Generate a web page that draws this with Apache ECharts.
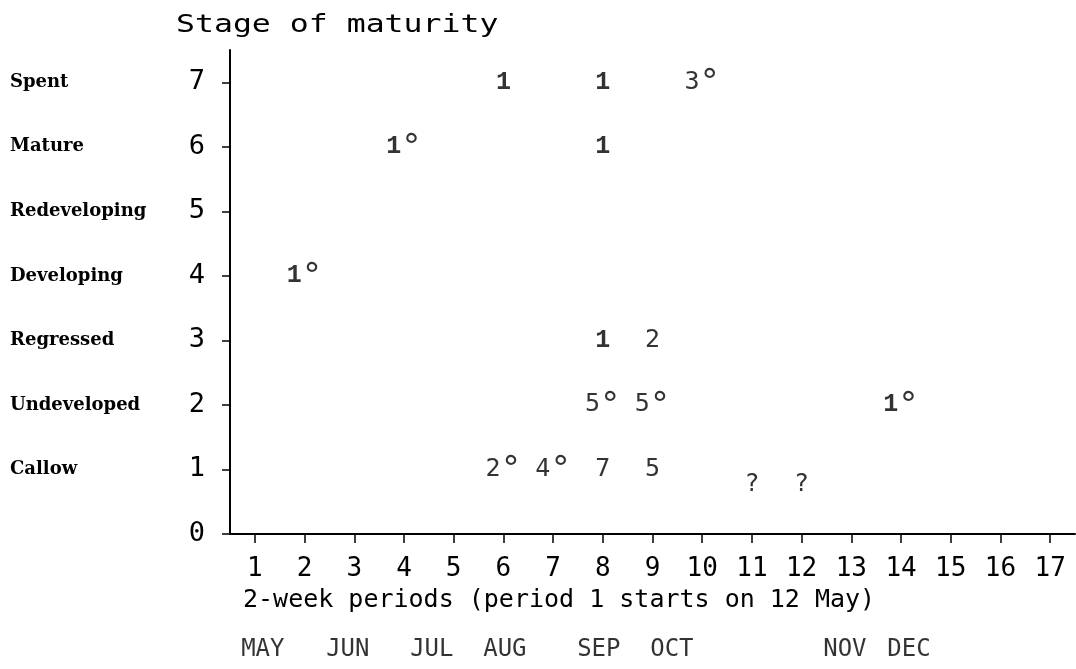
<!DOCTYPE html>
<html>
<head>
<meta charset="utf-8">
<script src="https://cdn.jsdelivr.net/npm/echarts@6/dist/echarts.min.js"></script>
<style>html,body{margin:0;padding:0;background:#fff}#c{width:1076px;height:669px}</style>
</head>
<body>
<div id="c"></div>
<script>
// ---- data ----
const periods = [6, 8, 10, 4, 8, 2, 8, 9, 8, 9, 14, 6, 7, 8, 9, 11, 12];
const stages  = [7, 7, 7, 6, 6, 4, 3, 3, 2, 2, 2, 1, 1, 1, 1, 0.77, 0.77];
const marks   = ['1', '1', '3°', '1°', '1', '1°', '1', '2', '5°', '5°', '1°', '2°', '4°', '7', '5', '?', '?'];
const stageNames = ['', 'Callow', 'Undeveloped', 'Regressed', 'Developing', 'Redeveloping', 'Mature', 'Spent'];
const stageTicks = [0, 1, 2, 3, 4, 5, 6, 7];
const periodTicks = [1, 2, 3, 4, 5, 6, 7, 8, 9, 10, 11, 12, 13, 14, 15, 16, 17];
const months = ['MAY', 'JUN', 'JUL', 'AUG', 'SEP', 'OCT', 'NOV', 'DEC'];
const monthPos = [1.16, 2.87, 4.56, 6.03, 7.92, 9.39, 12.87, 14.16];
const monthRow = -1.8;

const MONO = '"DejaVu Sans Mono", monospace';
const chart = echarts.init(document.getElementById('c'), null, {renderer: 'canvas'});

function richLabel(s) {
  let out = '';
  for (const ch of s) {
    if (ch === '°') out += '{d|°}';
    else if (ch === '1') out += '{s|1}';
    else out += '{p|' + ch + '}';
  }
  return out;
}

chart.setOption({
  animation: false,
  backgroundColor: '#fff',
  grid: {left: 230, right: 1, top: 50, bottom: 135, containLabel: false},
  xAxis: {
    type: 'value', min: 0.5, max: 17.5,
    splitLine: {show: false},
    axisLine: {show: true, onZero: false, lineStyle: {color: '#000', width: 2}},
    axisTick: {show: true, inside: false, customValues: periodTicks, length: 9, lineStyle: {color: '#000', width: 1.5}},
    axisLabel: {show: true, customValues: periodTicks, margin: 22, color: '#000', fontFamily: MONO, fontSize: 26}
  },
  yAxis: [{
    type: 'value', min: 0, max: 7.5,
    splitLine: {show: false},
    axisLine: {show: true, lineStyle: {color: '#000', width: 2}},
    axisTick: {show: true, inside: false, customValues: stageTicks, length: 8, lineStyle: {color: '#000', width: 1.5}},
    axisLabel: {show: true, customValues: stageTicks, margin: 25, color: '#000', fontFamily: MONO, fontSize: 27}
  }, {
    type: 'value', min: 0, max: 7.5, position: 'left',
    splitLine: {show: false}, axisLine: {show: false}, axisTick: {show: false},
    axisLabel: {show: true, customValues: stageTicks, margin: 220, align: 'left', color: '#000',
      fontFamily: '"DejaVu Serif", serif', fontWeight: 'bold', fontSize: 18,
      padding: [0, 0, 6, 0],
      formatter: v => stageNames[v] || ''}
  }],
  graphic: [
    {type: 'text', x: 176, y: 13, scaleX: 1.26, style: {text: 'Stage of maturity', font: '25px ' + MONO, fill: '#000'}},
    {type: 'text', x: 243, y: 588, style: {text: '2-week periods (period 1 starts on 12 May)', font: '25px ' + MONO, fill: '#000'}}
  ],
  series: [{
    type: 'scatter', symbolSize: 0, clip: false,
    data: periods.map((p, i) => [p, stages[i], marks[i]]),
    label: {
      show: true, position: 'inside', color: '#000',
      formatter: p => richLabel(p.data[2]),
      rich: {
        p: {fontFamily: MONO, fontSize: 25, color: '#000', verticalAlign: 'middle', lineHeight: 30},
        s: {fontFamily: '"Liberation Mono", monospace', fontWeight: 'bold', fontSize: 25, color: '#000', verticalAlign: 'middle', lineHeight: 30},
        d: {fontFamily: MONO, fontSize: 34, color: '#000', verticalAlign: 'top', lineHeight: 30}
      }
    }
  }, {
    type: 'scatter', symbolSize: 0, clip: false, silent: true,
    data: monthPos.map((m, i) => [m, monthRow, months[i]]),
    label: {show: true, position: 'inside', color: '#000', fontFamily: MONO, fontSize: 24,
      formatter: p => p.data[2]}
  }]
});
</script>
</body>
</html>
